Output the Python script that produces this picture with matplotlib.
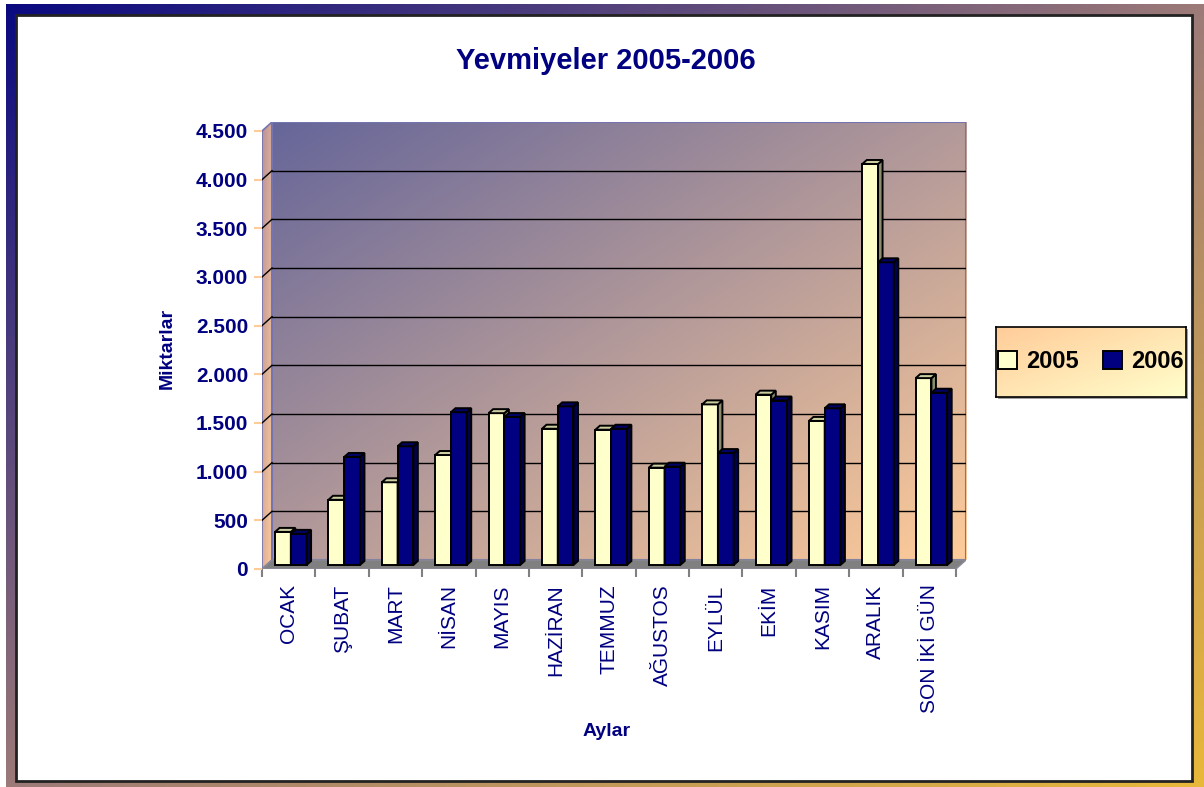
import matplotlib
matplotlib.use("Agg")
import matplotlib.pyplot as plt
import numpy as np
from matplotlib.colors import LinearSegmentedColormap
from matplotlib.patches import Polygon, Rectangle, Patch

plt.rcParams['font.family'] = ['Liberation Sans', 'DejaVu Sans']

months = ["OCAK", "ŞUBAT", "MART", "NİSAN", "MAYIS", "HAZİRAN", "TEMMUZ",
          "AĞUSTOS", "EYLÜL", "EKİM", "KASIM", "ARALIK", "SON İKİ GÜN"]
y2005 = [340, 670, 850, 1130, 1560, 1400, 1390, 1000, 1650, 1750, 1480, 4120, 1920]
y2006 = [320, 1110, 1220, 1570, 1520, 1630, 1400, 1010, 1150, 1690, 1610, 3110, 1770]
yticks = [0, 500, 1000, 1500, 2000, 2500, 3000, 3500, 4000, 4500]

W, H = 1204, 787
navy = "#000080"

fig = plt.figure(figsize=(W / 100, H / 100), dpi=100)
fig.patch.set_facecolor("white")


def diag(colors, n=300):
    cm = LinearSegmentedColormap.from_list("g", colors)
    u = np.linspace(0, 1, n)
    t = (u[None, :] + u[:, None]) / 2
    return cm(t)


# outer gradient frame
bg = fig.add_axes([0, 0, 1, 1], zorder=-10)
bg.set_xlim(0, W)
bg.set_ylim(H, 0)
bg.axis("off")
bg.imshow(diag(["#0A0A80", "#9C7A78", "#E8B83A"]), extent=(6, W, H, 4),
          aspect="auto", origin="upper")
bg.add_patch(Rectangle((16, 15), 1176, 766, facecolor="white",
                       edgecolor="#222222", lw=2))
# legend shadow
bg.add_patch(Rectangle((998, 329), 190, 70, facecolor="#A0A0A0", edgecolor="none"))
bg.set_xlim(0, W)
bg.set_ylim(H, 0)

# main 3D-ish plot area (front plane x 262..956, y 131..569)
px_x = 13 / 694
px_y = 4500 / 438
dxw, dyw = 10 * px_x, 9 * px_y
xmax, ymax = 13 + dxw, 4500 + dyw
ax = fig.add_axes([262 / W, (H - 569) / H, 704 / W, 447 / H])
ax.patch.set_visible(False)
for s in ax.spines.values():
    s.set_visible(False)

wall_edge = "#7474B0"
# back wall
ax.imshow(diag(["#666699", "#FFCC99"]), extent=(dxw, xmax, dyw, ymax),
          aspect="auto", origin="upper", zorder=0.5)
ax.add_patch(Rectangle((dxw, dyw), 13, 4500, fill=False, edgecolor=wall_edge,
                       lw=1.5, zorder=0.6))
# left wall
lw_poly = Polygon([(0, 0), (dxw, dyw), (dxw, ymax), (0, 4500)], closed=True,
                  facecolor="none", edgecolor=wall_edge, lw=1.2, zorder=0.7)
ax.add_patch(lw_poly)
im = ax.imshow(diag(["#B89098", "#FFCC99"]), extent=(0, dxw, 0, ymax),
               aspect="auto", origin="upper", zorder=0.55)
im.set_clip_path(lw_poly)
# floor
ax.add_patch(Polygon([(0, 0), (13, 0), (xmax, dyw), (dxw, dyw)], closed=True,
                     facecolor="#808080", edgecolor="#8A8A9A", lw=1, zorder=0.8))

# gridlines
for v in yticks[1:-1]:
    ax.plot([dxw, xmax], [v + dyw, v + dyw], color="black", lw=1, zorder=0.9)
    ax.plot([0, dxw], [v, v + dyw], color="black", lw=1, zorder=0.9)

# bars
x = np.arange(len(months))
bw = 0.295
base = 4 * px_y
ddx, ddy = 4.5 * px_x, 4 * px_y
z = 2
handles = []
for series, off, cols in [(y2005, 0.245, ("#FFFFCC", "#8C8C6E", "#CCCCA0")),
                          (y2006, 0.54, (navy, "#00004D", "#000066"))]:
    h = ax.bar(x + off, series, width=bw, bottom=base, align="edge",
               color=cols[0], edgecolor="black", lw=1.4, zorder=z)
    handles.append(h)
    z += 1
    for xi, v in zip(x + off, series):
        top = base + v
        xr = xi + bw
        ax.add_patch(Polygon([(xr, base), (xr, top), (xr + ddx, top + ddy),
                              (xr + ddx, base + ddy)], closed=True,
                             facecolor=cols[1], edgecolor="black", lw=1.4,
                             zorder=z - 0.5))
        ax.add_patch(Polygon([(xi, top), (xr, top), (xr + ddx, top + ddy),
                              (xi + ddx, top + ddy)], closed=True,
                             facecolor=cols[2], edgecolor="black", lw=1.4,
                             zorder=z - 0.5))

# reorder so that the bars of each month overlap correctly
ax.set_xlim(0, xmax)
ax.set_ylim(0, ymax)

ax.set_yticks(yticks)
ax.set_yticklabels([f"{v:,}".replace(",", ".") for v in yticks],
                   fontsize=15, fontweight="bold", color=navy)
ax.tick_params(axis="y", length=6, width=1.5, color="#FFCC99", pad=4)

ax.set_xticks(x + 0.5)
ax.set_xticklabels(months, rotation=90, fontsize=15, color=navy, va="top")
ax.tick_params(axis="x", which="major", length=0, pad=11)
ax.set_xticks(np.arange(14), minor=True)
ax.tick_params(axis="x", which="minor", length=6, width=1.5, color="#808080")

fig.text(606 / W, 1 - 61 / H, "Yevmiyeler 2005-2006", fontsize=21,
         fontweight="bold", color=navy, ha="center", va="center")
fig.text(167 / W, 1 - 348 / H, "Miktarlar", fontsize=14, fontweight="bold",
         color=navy, rotation=90, ha="center", va="center")
fig.text(607 / W, 1 - 731 / H, "Aylar", fontsize=14, fontweight="bold",
         color=navy, ha="center", va="center")

# legend box with gradient
lax = fig.add_axes([996 / W, (H - 397) / H, 190 / W, 70 / H], zorder=5)
lax.imshow(diag(["#FFCC99", "#FFFFCC"]), extent=(0, 1, 0, 1), aspect="auto",
           origin="upper")
lax.set_xticks([])
lax.set_yticks([])
for s in lax.spines.values():
    s.set_color("black")
    s.set_linewidth(1.2)
proxies = [Patch(facecolor="#FFFFCC", edgecolor="black", lw=1.4),
           Patch(facecolor=navy, edgecolor="black", lw=1.4)]
lax.legend(proxies, ["2005", "2006"], loc="center", ncol=2, frameon=False,
           prop={"size": 17, "weight": "bold"}, handlelength=0.8,
           handleheight=0.8, handletextpad=0.4, columnspacing=1.0,
           borderaxespad=0)

fig.savefig("out.png", dpi=100)
